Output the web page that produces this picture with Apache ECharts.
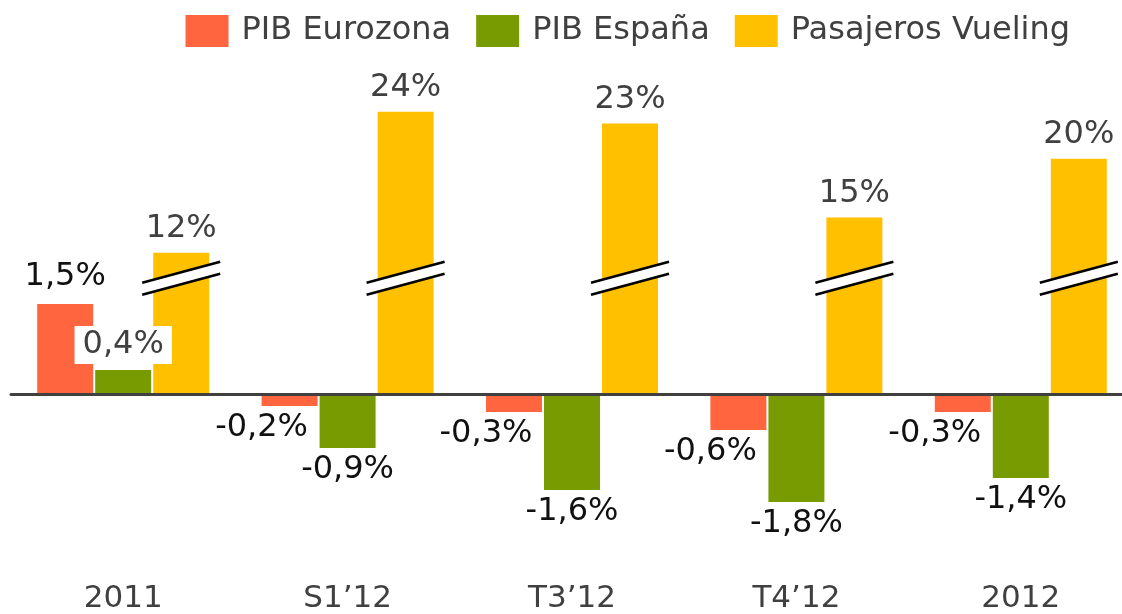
<!DOCTYPE html>
<html>
<head>
<meta charset="utf-8">
<script src="https://cdn.jsdelivr.net/npm/echarts@6/dist/echarts.min.js"></script>
<style>
  html, body { margin: 0; padding: 0; background: #fff; overflow: hidden; }
  #chart { width: 1133px; height: 614px; }
</style>
</head>
<body>
<div id="chart"></div>
<script>
// datos
const categories = ['2011', 'S1\u201912', 'T3\u201912', 'T4\u201912', '2012']
const pibEurozona = [1.5, -0.2, -0.3, -0.6, -0.3]
const pibEspana = [0.4, -0.9, -1.6, -1.8, -1.4]
const pasajerosVueling = [12, 24, 23, 15, 20]

// eje partido: los pasajeros van en otra escala
const leftMin = -3
const leftMax = 5.5
const vuelingRatio = 5.1
const breakAt = 1.93

const fontFamily = '"DejaVu Sans", Verdana, sans-serif'
const fmt = v => String(v).replace('.', ',') + '%'

const chart = echarts.init(document.getElementById('chart'))

const option = {
  animation: false,
  textStyle: { fontFamily: fontFamily },
  legend: {
    top: 10,
    right: 58,
    itemWidth: 43,
    itemHeight: 32,
    itemGap: 25,
    icon: 'rect',
    textStyle: { fontSize: 32, color: '#404040', fontFamily: fontFamily, padding: [0, 0, 0, 8] },
    data: ['PIB Eurozona', 'PIB España', 'Pasajeros Vueling']
  },
  grid: { left: 11, top: 64, right: 0, height: 510 },
  xAxis: [
    {
      type: 'category',
      data: categories,
      axisLine: { onZero: true, lineStyle: { color: '#404040', width: 3 } },
      axisTick: { show: false },
      axisLabel: { show: false },
      z: 5
    },
    {
      type: 'category',
      position: 'bottom',
      data: categories,
      axisLine: { show: false },
      axisTick: { show: false },
      axisLabel: { margin: 9, fontSize: 31, color: '#404040', fontFamily: fontFamily }
    }
  ],
  yAxis: [
    { type: 'value', min: leftMin, max: leftMax, show: false },
    { type: 'value', min: leftMin * vuelingRatio, max: leftMax * vuelingRatio, show: false }
  ],
  series: [
    {
      name: 'PIB Eurozona',
      type: 'bar',
      data: pibEurozona.map(v => v < 0
        ? { value: v, label: { position: 'bottom', distance: 6, offset: [-28, 0] } }
        : { value: v }),
      barWidth: 56,
      barGap: '3.6%',
      itemStyle: { color: '#FF6640' },
      label: {
        show: true,
        position: 'top',
        distance: 11,
        fontSize: 32,
        color: '#111',
        fontFamily: fontFamily,
        formatter: p => fmt(p.value)
      }
    },
    {
      name: 'PIB España',
      type: 'bar',
      data: pibEspana.map(v => v > 0
        ? { value: v, label: { backgroundColor: '#fff', padding: [3, 8], position: 'top', distance: 6, color: '#404040' } }
        : { value: v, label: { position: 'bottom', distance: 6 } }),
      barWidth: 56,
      barGap: '3.6%',
      itemStyle: { color: '#779B00' },
      label: {
        show: true,
        fontSize: 32,
        color: '#111',
        fontFamily: fontFamily,
        formatter: p => fmt(p.value)
      }
    },
    {
      name: 'Pasajeros Vueling',
      type: 'bar',
      yAxisIndex: 1,
      data: pasajerosVueling,
      barWidth: 56,
      barGap: '3.6%',
      itemStyle: { color: '#FFC000' },
      label: {
        show: true,
        position: 'top',
        distance: 8,
        fontSize: 32,
        color: '#404040',
        fontFamily: fontFamily,
        formatter: p => fmt(p.value)
      }
    }
  ]
}

chart.setOption(option)

// marcas de corte en las barras amarillas
const drawBreaks = () => {
  const yc = chart.convertToPixel({ yAxisIndex: 0 }, breakAt)
  const graphics = []
  categories.forEach((c, i) => {
    const cx = chart.convertToPixel({ xAxisIndex: 0 }, i) + 58
    graphics.push({
      type: 'polygon',
      z: 10,
      shape: { points: [[cx - 39, yc + 4.5], [cx + 39, yc - 16.5], [cx + 39, yc - 4.5], [cx - 39, yc + 16.5]] },
      style: { fill: '#fff' }
    })
    graphics.push({
      type: 'line', z: 11,
      shape: { x1: cx - 39, y1: yc + 4.5, x2: cx + 39, y2: yc - 16.5 },
      style: { stroke: '#000', lineWidth: 2.5 }
    })
    graphics.push({
      type: 'line', z: 11,
      shape: { x1: cx - 39, y1: yc + 16.5, x2: cx + 39, y2: yc - 4.5 },
      style: { stroke: '#000', lineWidth: 2.5 }
    })
  })
  chart.setOption({ graphic: graphics })
}
drawBreaks()
</script>
</body>
</html>
